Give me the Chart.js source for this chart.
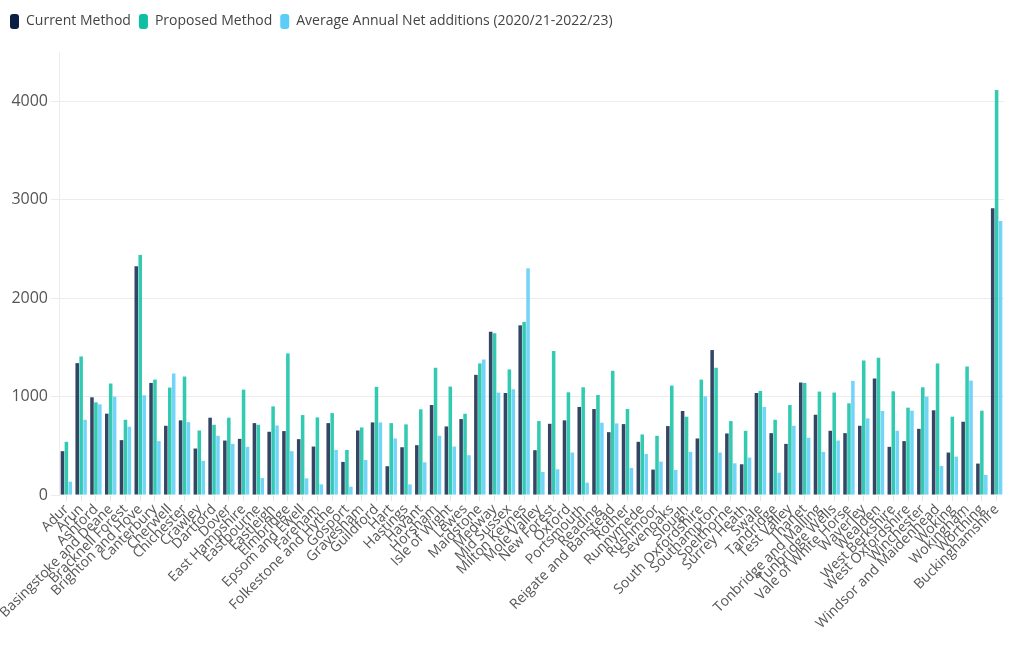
<!DOCTYPE html>
<html>
<head>
<meta charset="utf-8">
<script src="https://cdn.jsdelivr.net/npm/chart.js@4.4.1/dist/chart.umd.min.js"></script>
<style>
    html, body { margin: 0; padding: 0; background: #fff; }
    #wrap { width: 1020px; height: 650px; }
</style>
</head>
<body>
<div id="wrap"><canvas id="chart"></canvas></div>
<script>
var areas = ['Adur', 'Arun', 'Ashford', 'Basingstoke and Deane', 'Bracknell Forest', 'Brighton and Hove',
    'Canterbury', 'Cherwell', 'Chichester', 'Crawley', 'Dartford', 'Dover', 'East Hampshire', 'Eastbourne',
    'Eastleigh', 'Elmbridge', 'Epsom and Ewell', 'Fareham', 'Folkestone and Hythe', 'Gosport', 'Gravesham',
    'Guildford', 'Hart', 'Hastings', 'Havant', 'Horsham', 'Isle of Wight', 'Lewes', 'Maidstone', 'Medway',
    'Mid Sussex', 'Milton Keynes', 'Mole Valley', 'New Forest', 'Oxford', 'Portsmouth', 'Reading',
    'Reigate and Banstead', 'Rother', 'Runnymede', 'Rushmoor', 'Sevenoaks', 'Slough', 'South Oxfordshire',
    'Southampton', 'Spelthorne', 'Surrey Heath', 'Swale', 'Tandridge', 'Test Valley', 'Thanet',
    'Tonbridge and Malling', 'Tunbridge Wells', 'Vale of White Horse', 'Waverley', 'Wealden', 'West Berkshire',
    'West Oxfordshire', 'Winchester', 'Windsor and Maidenhead', 'Woking', 'Wokingham', 'Worthing', 'Buckinghamshire'];

var currentMethod = [446, 1340, 993, 827, 558, 2323, 1139, 704, 759, 473, 786, 554, 571, 731,
    643, 650, 568, 493, 731, 337, 656, 738, 293, 486, 507, 915, 697, 772, 1221, 1660,
    1037, 1724, 456, 724, 759, 895, 874, 639, 721, 541, 259, 701, 854, 575,
    1473, 626, 313, 1037, 629, 520, 1143, 816, 653, 629, 704, 1184, 490,
    548, 673, 861, 432, 745, 320, 2912];

var proposedMethod = [541, 1408, 942, 1133, 765, 2439, 1173, 1092, 1204, 656, 714, 786, 1071, 714,
    901, 1439, 813, 789, 833, 459, 687, 1099, 731, 718, 871, 1293, 1102, 826, 1337, 1643,
    1276, 1759, 752, 1463, 1044, 1095, 1017, 1262, 874, 616, 602, 1112, 796, 1173,
    1293, 752, 653, 1058, 765, 915, 1139, 1051, 1041, 932, 1367, 1395, 1054,
    888, 1095, 1337, 796, 1306, 857, 4114];

var netAdditions = [136, 765, 922, 1000, 694, 1014, 548, 1235, 741, 347, 602, 520, 490, 173,
    707, 446, 170, 109, 459, 85, 357, 738, 575, 109, 333, 602, 493, 405, 1378, 1041,
    1075, 2303, 235, 262, 432, 126, 735, 728, 276, 418, 340, 255, 439, 1003,
    432, 323, 381, 895, 228, 704, 582, 439, 554, 1160, 779, 854, 653,
    857, 1000, 296, 391, 1163, 204, 2783];

var seriesNames = ['Current Method', 'Proposed Method', 'Average Annual Net additions (2020/21-2022/23)'];
var barColours = ['rgba(17, 38, 72, 0.85)', 'rgba(14, 194, 165, 0.85)', 'rgba(90, 205, 248, 0.85)'];
var legendColours = ['#0b1f44', '#0fbfa3', '#5ccdf6'];

var yTicks = [0, 1000, 2000, 3000, 4000];

Chart.defaults.font.family = '"Open Sans", "Noto Sans", sans-serif';
Chart.defaults.color = '#555';

// push the plot down a bit below the legend
var legendGap = {
    id: 'legendGap',
    beforeInit: function (chart) {
        var fit = chart.legend.fit;
        chart.legend.fit = function () {
            fit.bind(chart.legend)();
            this.height += 13;
        };
    }
};

var ctx = document.getElementById('chart');
var chart = new Chart(ctx, {
    type: 'bar',
    data: {
        labels: areas,
        datasets: [
            { label: seriesNames[0], data: currentMethod, backgroundColor: barColours[0] },
            { label: seriesNames[1], data: proposedMethod, backgroundColor: barColours[1] },
            { label: seriesNames[2], data: netAdditions, backgroundColor: barColours[2] }
        ]
    },
    options: {
        responsive: true,
        maintainAspectRatio: false,
        animation: false,
        layout: { padding: { left: 2, right: 16, top: 6, bottom: 18 } },
        datasets: { bar: { categoryPercentage: 0.8, barPercentage: 0.9 } },
        plugins: {
            tooltip: { enabled: false },
            legend: {
                position: 'top',
                align: 'start',
                labels: {
                    boxWidth: 9,
                    boxHeight: 15,
                    useBorderRadius: true,
                    borderRadius: 3,
                    padding: 8,
                    color: '#444',
                    font: { size: 14 },
                    generateLabels: function (c) {
                        var items = Chart.defaults.plugins.legend.labels.generateLabels(c);
                        items.forEach(function (item, i) {
                            item.fillStyle = legendColours[i];
                            item.strokeStyle = legendColours[i];
                            item.lineWidth = 0;
                        });
                        return items;
                    }
                },
                onClick: null
            }
        },
        scales: {
            x: {
                grid: { display: true, drawOnChartArea: false, drawTicks: true, tickLength: 6, offset: false, color: '#e6e6e6' },
                border: { display: true, color: '#ffffff' },
                ticks: {
                    autoSkip: false,
                    maxRotation: 45,
                    minRotation: 45,
                    padding: 0,
                    color: '#555',
                    font: { size: 14 }
                }
            },
            y: {
                min: 0,
                max: 4500,
                afterBuildTicks: function (axis) {
                    axis.ticks = yTicks.map(function (v) { return { value: v }; });
                },
                afterFit: function (axis) {
                    axis.width = 57;
                },
                grid: { color: '#ececec', drawTicks: true, tickLength: 8 },
                border: { display: true, color: '#ececec' },
                ticks: {
                    padding: 3,
                    color: '#555',
                    font: { size: 16 },
                    callback: function (v) { return String(v); }
                }
            }
        }
    },
    plugins: [legendGap]
});
</script>
</body>
</html>
